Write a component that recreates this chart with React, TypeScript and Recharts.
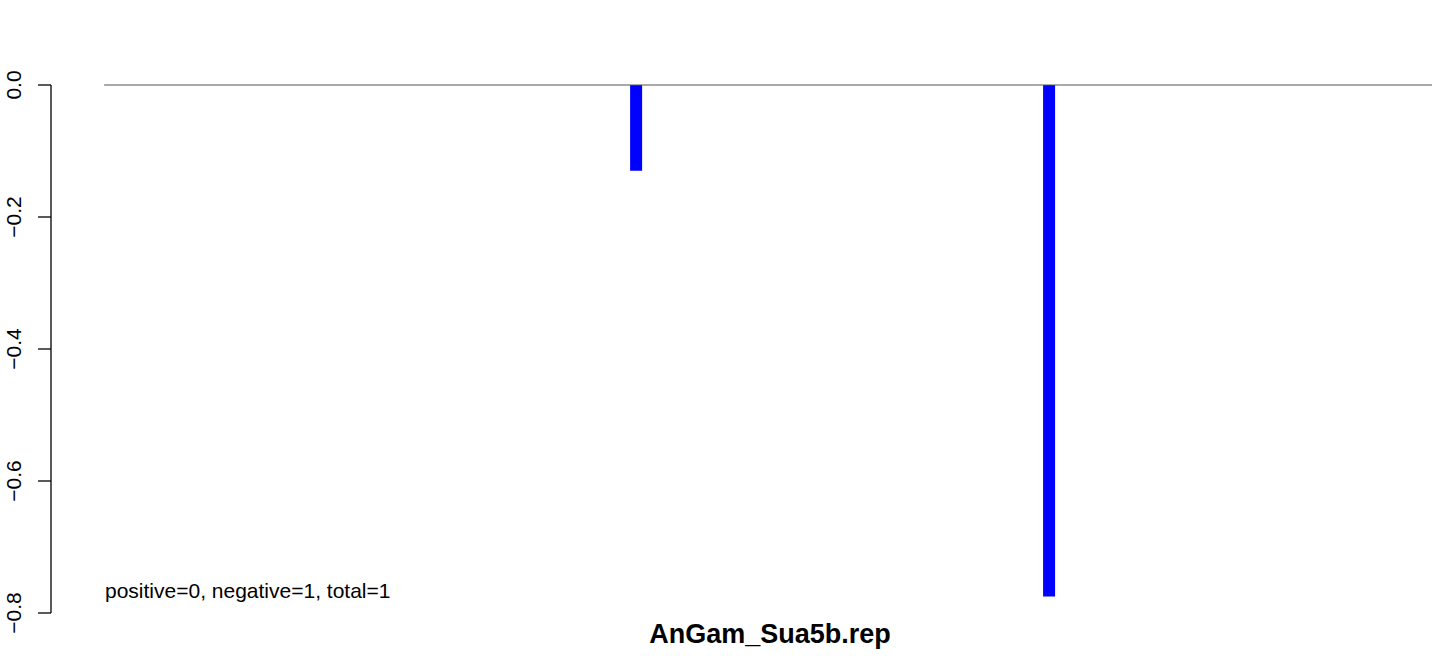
import React from 'react';
import { BarChart, Bar, XAxis, YAxis, ReferenceLine } from 'recharts';

const positions = [401, 712];
const values = [-0.13, -0.775];
const yTicks = [0, -0.2, -0.4, -0.6, -0.8];
const title = 'AnGam_Sua5b.rep';
const summary = 'positive=0, negative=1, total=1';

const data = positions.map((pos, i) => ({ pos, value: values[i] }));

const font = '"Liberation Sans", Arial, Helvetica, sans-serif';

const fmt = (v: number) => {
  const s = Math.abs(v).toFixed(1);
  return v < 0 ? '\u2212' + s : s;
};

const YTick = (props: any) => {
  const { y, payload } = props;
  return (
    <g transform={`translate(21, ${y}) rotate(-90)`}>
      <text x={0} y={0} textAnchor="middle" fontSize={21} fontFamily={font} fill="#000">
        {fmt(payload.value)}
      </text>
    </g>
  );
};

const App: React.FC = () => {
  return (
    <div style={{ position: 'absolute', left: 0, top: 0, width: 1444, height: 656, background: '#fff' }}>
      <BarChart
        width={1444}
        height={656}
        data={data}
        margin={{ top: 85, right: 12, bottom: 43, left: 0 }}
      >
        <XAxis dataKey="pos" type="number" domain={[-40, 1000]} hide allowDataOverflow />
        <YAxis
          width={51}
          domain={[-0.8, 0]}
          ticks={yTicks}
          tickSize={13}
          tick={<YTick />}
          axisLine={{ stroke: '#000', strokeWidth: 1.3 }}
          tickLine={{ stroke: '#000', strokeWidth: 1.3 }}
          allowDataOverflow
        />
        <ReferenceLine
          segment={[{ x: 0, y: 0 }, { x: 1000, y: 0 }]}
          stroke="#555"
          strokeWidth={1}
        />
        <Bar dataKey="value" fill="#0000ff" barSize={12} isAnimationActive={false} />
      </BarChart>
      <div
        style={{
          position: 'absolute',
          left: 105,
          top: 579,
          fontFamily: font,
          fontSize: 21,
          lineHeight: '24px',
          color: '#000',
          whiteSpace: 'nowrap',
        }}
      >
        {summary}
      </div>
      <div
        style={{
          position: 'absolute',
          left: 104,
          width: 1332,
          top: 619,
          textAlign: 'center',
          fontFamily: font,
          fontSize: 27,
          fontWeight: 'bold',
          lineHeight: '30px',
          color: '#000',
          whiteSpace: 'nowrap',
        }}
      >
        {title}
      </div>
    </div>
  );
};

export default App;
